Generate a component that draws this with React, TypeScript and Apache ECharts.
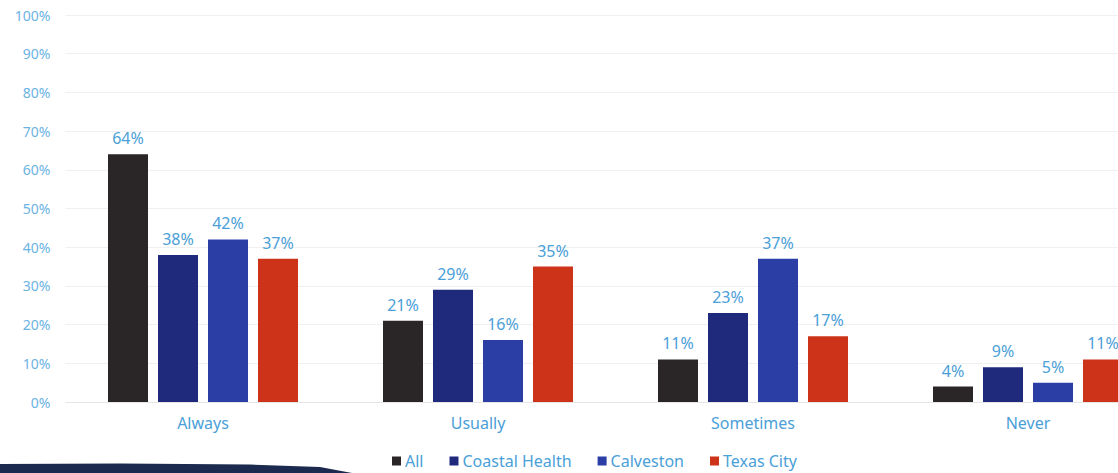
import React, { useEffect, useRef } from "react";
import * as echarts from "echarts";

const categories = ["Always", "Usually", "Sometimes", "Never"];
const seriesNames = ["All", "Coastal Health", "Calveston", "Texas City"];
const allValues = [64, 21, 11, 4];
const coastalValues = [38, 29, 23, 9];
const calvestonValues = [42, 16, 37, 5];
const texasValues = [37, 35, 17, 11];
const colors = ["#2a2627", "#1f2a7c", "#2b3ea6", "#cc3318"];

export default function App() {
  const ref = useRef<HTMLDivElement>(null);
  useEffect(() => {
    if (!ref.current) return;
    const chart = echarts.init(ref.current, null, { renderer: "svg" });
    const font = "'Noto Sans', sans-serif";
    const values = [allValues, coastalValues, calvestonValues, texasValues];
    chart.setOption({
      animation: false,
      backgroundColor: "#ffffff",
      textStyle: { fontFamily: font },
      grid: {
        left: 65.5,
        top: 15,
        height: 387,
        width: 1100,
        containLabel: false,
        outerBoundsMode: "none",
      },
      legend: {
        left: 387,
        top: 448,
        itemWidth: 9,
        itemHeight: 9,
        itemGap: 26,
        icon: "rect",
        data: seriesNames,
        textStyle: { color: "#4aa0d8", fontSize: 16, fontFamily: font, padding: [0, 0, 0, -1] },
      },
      xAxis: {
        type: "category",
        data: categories,
        axisLine: { show: true, lineStyle: { color: "#e6e6e6" } },
        axisTick: { show: false },
        axisLabel: { color: "#4aa0d8", fontSize: 16, margin: 13, fontFamily: font },
      },
      yAxis: {
        type: "value",
        min: 0,
        max: 100,
        interval: 10,
        axisLine: { show: false },
        axisTick: { show: false },
        axisLabel: { formatter: "{value}%", color: "#6bb3e3", fontSize: 14, margin: 15, fontFamily: font },
        splitLine: { lineStyle: { color: "#f0f0f0", width: 1 } },
      },
      graphic: [
        {
          type: "polygon",
          shape: {
            points: [
              [0, 464],
              [120, 463.5],
              [250, 464.5],
              [320, 467],
              [352, 473],
              [0, 473],
            ],
          },
          style: { fill: "#1b2a4e" },
        },
      ],
      series: seriesNames.map((name, i) => ({
        name,
        type: "bar",
        data: values[i],
        barWidth: 40,
        barGap: "25%",
        itemStyle: { color: colors[i] },
        label: {
          show: true,
          position: "top",
          distance: 8,
          formatter: "{c}%",
          color: "#4aa0d8",
          fontSize: 16,
          fontFamily: font,
        },
      })),
    });
    return () => chart.dispose();
  }, []);
  return (
    <div
      ref={ref}
      style={{ position: "fixed", left: 0, top: 0, width: 1118, height: 473 }}
    />
  );
}
